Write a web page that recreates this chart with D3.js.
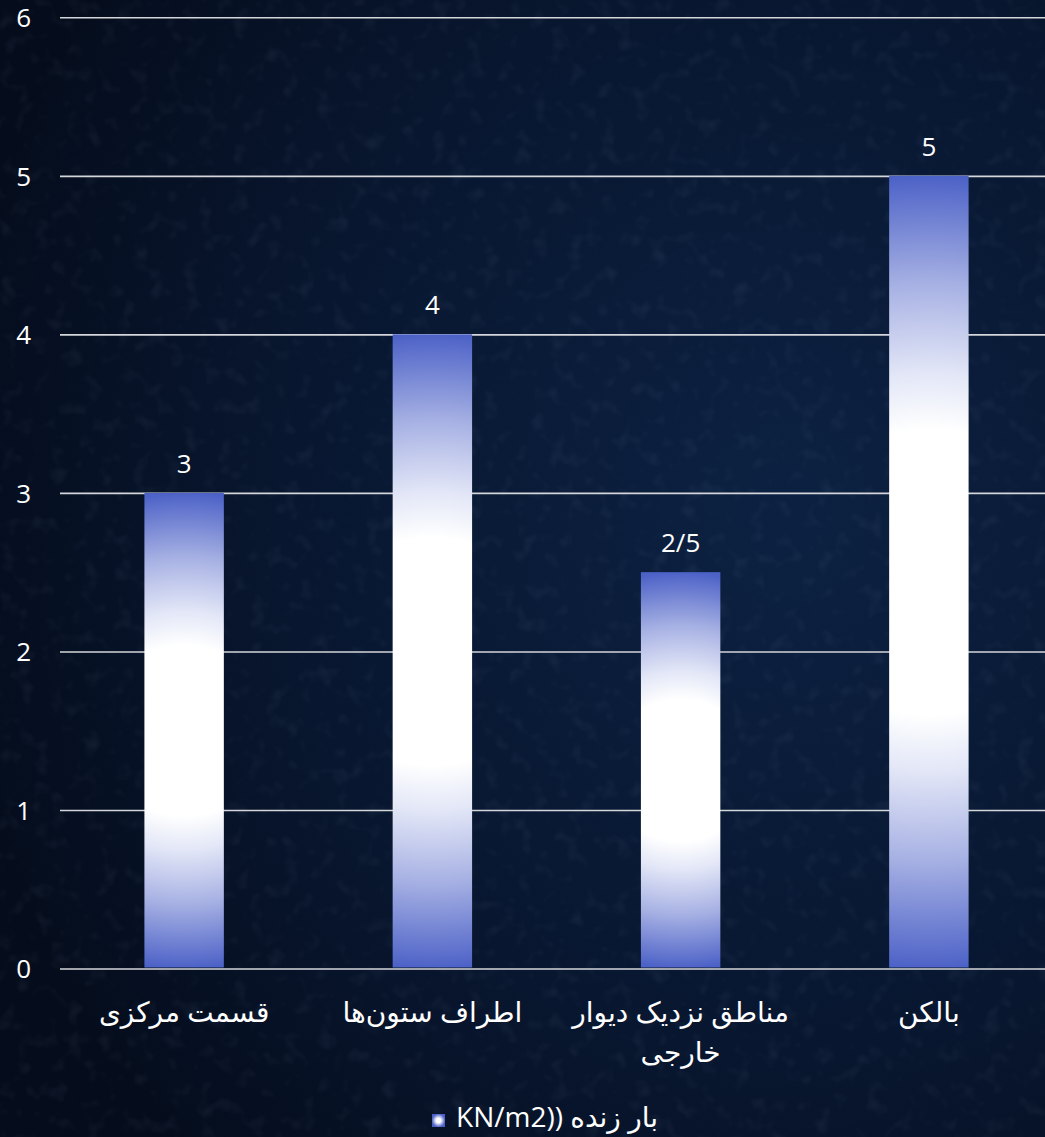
<!DOCTYPE html>
<html>
<head>
<meta charset="utf-8">
<script src="https://cdn.jsdelivr.net/npm/d3@7"></script>
<style>
	html, body {margin:0; padding:0; background:#081326;}
	svg {display:block;}
</style>
</head>
<body>
<div id="chart"></div>
<script>
// data
const categories = ["قسمت مرکزی", "اطراف ستون\u200cها", "مناطق نزدیک دیوار خارجی", "بالکن"];
const values = [3, 4, 2.5, 5];
const valueLabels = ["3", "4", "2/5", "5"];
const yTicks = [0, 1, 2, 3, 4, 5, 6];
const seriesName = "بار زنده ((KN/m2";

const W = 1045, H = 1137,
	fontFamily = "'Open Sans', 'Noto Sans', 'DejaVu Sans', sans-serif",
	numSize = "26px",
	textSize = "28px",
	barBlue = "#4d62c7";

let svg = d3.select("#chart").append("svg")
	.attr("width", W)
	.attr("height", H);

let defs = svg.append("defs");

// background: dark navy, a little lighter toward the right
let bgGrad = defs.append("radialGradient")
	.attr("id", "bgGrad")
	.attr("cx", "0.75").attr("cy", "0.45").attr("r", "0.8");
bgGrad.append("stop").attr("offset", "0").attr("stop-color", "#0c2142");
bgGrad.append("stop").attr("offset", "0.6").attr("stop-color", "#08162f");
bgGrad.append("stop").attr("offset", "1").attr("stop-color", "#050d1d");

let noise = defs.append("filter").attr("id", "noise")
	.attr("x", 0).attr("y", 0).attr("width", "100%").attr("height", "100%");
noise.append("feTurbulence")
	.attr("type", "fractalNoise")
	.attr("baseFrequency", "0.06")
	.attr("numOctaves", 2)
	.attr("seed", 3);
noise.append("feColorMatrix")
	.attr("type", "matrix")
	.attr("values", "0 0 0 0 0.5  0 0 0 0 0.6  0 0 0 0 0.8  0 0 0 1.6 -0.85");

svg.append("rect").attr("width", W).attr("height", H).style("fill", "url(#bgGrad)");
svg.append("rect").attr("width", W).attr("height", H)
	.attr("filter", "url(#noise)")
	.style("opacity", 0.1);

// scales
let x = d3.scaleBand()
	.domain(categories)
	.range([60, 1053])
	.paddingInner(0.68)
	.paddingOuter(0.34);

let y = d3.scaleLinear()
	.domain([0, 6])
	.range([968.5, 17.3]);

// gridlines + y labels
let yAxis = svg.append("g")
	.attr("transform", "translate(60,0)")
	.call(d3.axisLeft(y).tickValues(yTicks).tickSize(-(W - 60)).tickPadding(0).tickFormat(d3.format("d")));
yAxis.select(".domain").remove();
yAxis.selectAll(".tick line")
	.attr("stroke", "#d4d6da")
	.attr("stroke-width", 1.6);
yAxis.selectAll(".tick text")
	.attr("x", -29)
	.attr("dy", "0.36em")
	.attr("text-anchor", "end")
	.style("fill", "#ffffff")
	.style("font-family", fontFamily)
	.style("font-size", numSize);

// one radial gradient per bar, white core and blue rim
values.forEach(function(v, i){
	let top = y(v), bottom = y(0),
		cx = x(categories[i]) + x.bandwidth()/2,
		cy = (top + bottom)/2,
		r = (bottom - top)/2;
	let g = defs.append("radialGradient")
		.attr("id", "barGrad" + i)
		.attr("gradientUnits", "userSpaceOnUse")
		.attr("cx", cx).attr("cy", cy).attr("r", r);
	g.append("stop").attr("offset", "0").attr("stop-color", "#ffffff");
	g.append("stop").attr("offset", "0.36").attr("stop-color", "#ffffff");
	g.append("stop").attr("offset", "0.5").attr("stop-color", "#e3e7f7");
	g.append("stop").attr("offset", "0.72").attr("stop-color", "#a9b3e4");
	g.append("stop").attr("offset", "1").attr("stop-color", barBlue);
});

svg.append("g").selectAll("rect")
	.data(values)
	.join("rect")
	.attr("x", (d, i) => x(categories[i]))
	.attr("y", d => y(d))
	.attr("width", x.bandwidth())
	.attr("height", d => y(0) - y(d) - 1)
	.style("fill", (d, i) => "url(#barGrad" + i + ")");

// value labels
svg.append("g").selectAll("text")
	.data(values)
	.join("text")
	.attr("x", (d, i) => x(categories[i]) + x.bandwidth()/2)
	.attr("y", d => y(d) - 20)
	.attr("text-anchor", "middle")
	.style("fill", "#ffffff")
	.style("font-family", fontFamily)
	.style("font-size", numSize)
	.text((d, i) => valueLabels[i]);

// category labels, wrapped to the band step
let catG = svg.append("g");
categories.forEach(function(c, i){
	let cx = x(c) + x.bandwidth()/2,
		words = c.split(" "),
		lines = [],
		line = [];
	let probe = catG.append("text")
		.style("font-family", fontFamily)
		.style("font-size", textSize)
		.attr("direction", "rtl");
	words.forEach(function(w){
		let test = line.concat([w]).join(" ");
		probe.text(test);
		if(line.length && probe.node().getComputedTextLength() > 235){
			lines.push(line.join(" "));
			line = [w];
		}else{
			line.push(w);
		}
	});
	lines.push(line.join(" "));
	probe.remove();
	lines.forEach(function(l, li){
		catG.append("text")
			.attr("x", cx)
			.attr("y", 1022 + li*40)
			.attr("text-anchor", "middle")
			.attr("direction", "rtl")
			.style("fill", "#ffffff")
			.style("font-family", fontFamily)
			.style("font-size", textSize)
			.text(l);
	});
});

// legend
let legG = svg.append("g");
let legText = legG.append("text")
	.attr("x", 557)
	.attr("y", 1127)
	.attr("text-anchor", "middle")
	.attr("direction", "rtl")
	.style("fill", "#ffffff")
	.style("font-family", fontFamily)
	.style("font-size", textSize)
	.text(seriesName);
let bb = legText.node().getBBox();
let legGrad = defs.append("radialGradient").attr("id", "legGrad");
legGrad.append("stop").attr("offset", "0").attr("stop-color", "#ffffff");
legGrad.append("stop").attr("offset", "0.35").attr("stop-color", "#ffffff");
legGrad.append("stop").attr("offset", "1").attr("stop-color", barBlue);
legG.append("rect")
	.attr("x", bb.x - 24)
	.attr("y", 1114)
	.attr("width", 13)
	.attr("height", 13)
	.style("fill", "url(#legGrad)");
</script>
</body>
</html>
